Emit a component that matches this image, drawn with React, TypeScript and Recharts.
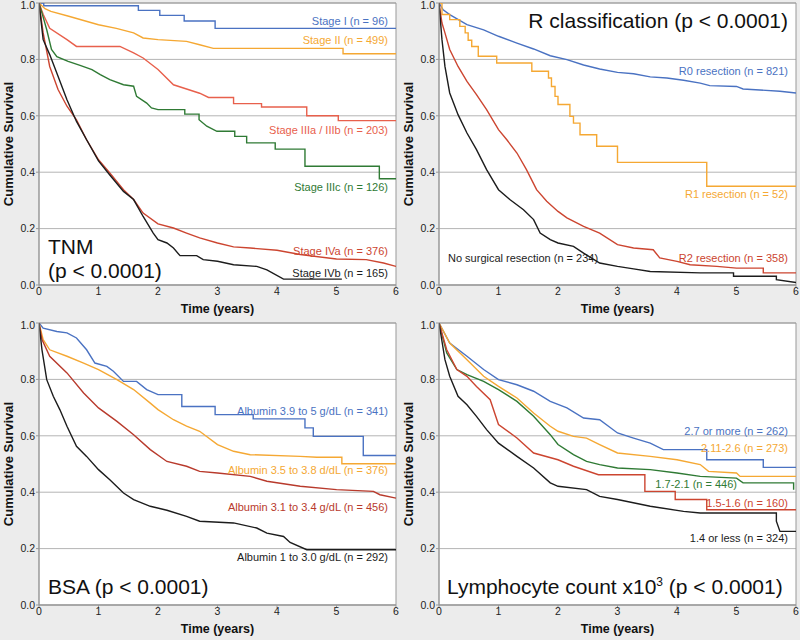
import React from 'react'
import {
  LineChart,
  Line,
  XAxis,
  YAxis,
  CartesianGrid,
  ReferenceArea,
} from 'recharts'

// time (years), cumulative survival
const stageI = [[0, 1], [0.08, 0.99], [1.67, 0.974], [2.03, 0.956], [2.44, 0.936], [2.96, 0.91], [6, 0.91]]
const stageII = [[0, 1], [0.1, 0.98], [0.2, 0.97], [0.5, 0.953], [1, 0.923], [1.3, 0.91], [1.59, 0.894], [1.75, 0.876], [2, 0.87], [2.48, 0.864], [2.7, 0.852], [2.93, 0.839], [5.11, 0.839], [5.11, 0.82], [6, 0.82]]
const stageIIIab = [[0, 1], [0.07, 0.96], [0.18, 0.91], [0.47, 0.87], [0.63, 0.846], [1.36, 0.846], [1.59, 0.823], [1.75, 0.805], [2, 0.764], [2.26, 0.71], [2.48, 0.695], [2.7, 0.68], [2.85, 0.665], [3.27, 0.665], [3.27, 0.643], [3.74, 0.643], [3.74, 0.631], [4.5, 0.631], [4.5, 0.6], [5.03, 0.6], [5.03, 0.583], [6, 0.583]]
const stageIIIc = [[0, 1], [0.07, 0.95], [0.13, 0.905], [0.21, 0.835], [0.3, 0.81], [0.49, 0.793], [0.69, 0.779], [0.89, 0.764], [1.03, 0.746], [1.19, 0.728], [1.42, 0.71], [1.59, 0.705], [1.64, 0.669], [1.81, 0.645], [1.89, 0.628], [2, 0.622], [2.45, 0.622], [2.45, 0.606], [2.69, 0.606], [2.69, 0.586], [2.82, 0.563], [2.99, 0.545], [3.29, 0.545], [3.29, 0.527], [3.49, 0.527], [3.49, 0.504], [3.97, 0.504], [3.97, 0.482], [4.47, 0.482], [4.47, 0.421], [5.72, 0.421], [5.72, 0.377], [6, 0.377]]
const stageIVa = [[0, 1], [0.07, 0.894], [0.18, 0.775], [0.32, 0.693], [0.47, 0.634], [0.63, 0.586], [0.8, 0.515], [1, 0.444], [1.19, 0.397], [1.42, 0.338], [1.59, 0.303], [1.75, 0.255], [2, 0.217], [2.26, 0.202], [2.48, 0.184], [2.7, 0.167], [3, 0.149], [3.27, 0.135], [3.55, 0.131], [4, 0.123], [4.39, 0.108], [5, 0.092], [5.5, 0.09], [5.79, 0.078], [6, 0.066]]
const stageIVb = [[0, 1], [0.07, 0.87], [0.18, 0.817], [0.32, 0.74], [0.47, 0.657], [0.63, 0.58], [0.8, 0.515], [1, 0.44], [1.19, 0.39], [1.42, 0.332], [1.59, 0.303], [1.75, 0.243], [1.92, 0.184], [2, 0.161], [2.15, 0.149], [2.26, 0.131], [2.37, 0.104], [2.65, 0.104], [2.76, 0.09], [3, 0.084], [3.27, 0.072], [3.66, 0.066], [3.83, 0.054], [4.11, 0.021], [5.09, 0.021]]

const r0 = [[0, 1], [0.07, 0.976], [0.18, 0.959], [0.47, 0.923], [0.75, 0.905], [1, 0.882], [1.31, 0.858], [1.59, 0.837], [1.87, 0.813], [2.15, 0.799], [2.43, 0.78], [2.7, 0.766], [3, 0.754], [3.27, 0.749], [3.55, 0.738], [3.83, 0.734], [4.11, 0.726], [4.39, 0.716], [4.55, 0.707], [5, 0.704], [5.11, 0.695], [5.73, 0.687], [6, 0.681]]
const r1 = [[0, 1], [0.05, 0.959], [0.18, 0.941], [0.35, 0.917], [0.44, 0.894], [0.49, 0.868], [0.55, 0.846], [0.66, 0.811], [0.97, 0.787], [1.56, 0.758], [1.84, 0.734], [1.89, 0.704], [1.95, 0.669], [2, 0.64], [2.2, 0.598], [2.26, 0.574], [2.37, 0.533], [2.65, 0.492], [3, 0.435], [4.5, 0.35], [6, 0.35]]
const r2 = [[0, 1], [0.05, 0.929], [0.1, 0.894], [0.18, 0.835], [0.32, 0.775], [0.47, 0.722], [0.63, 0.675], [0.8, 0.622], [1, 0.551], [1.14, 0.515], [1.31, 0.468], [1.47, 0.409], [1.64, 0.338], [1.81, 0.297], [2, 0.261], [2.15, 0.238], [2.43, 0.208], [2.7, 0.184], [3, 0.143], [3.27, 0.131], [3.6, 0.125], [3.71, 0.096], [4, 0.084], [4.22, 0.072], [4.67, 0.066], [5, 0.06], [5.45, 0.06], [5.45, 0.043], [6, 0.043]]
const noSurgery = [[0, 1], [0.05, 0.87], [0.1, 0.775], [0.18, 0.681], [0.32, 0.604], [0.47, 0.539], [0.63, 0.48], [0.8, 0.409], [1, 0.338], [1.19, 0.303], [1.42, 0.267], [1.59, 0.232], [1.7, 0.184], [1.87, 0.161], [2, 0.149], [2.26, 0.137], [2.43, 0.113], [2.7, 0.078], [3, 0.066], [3.27, 0.057], [3.55, 0.048], [4.39, 0.043], [4.95, 0.043], [4.95, 0.031], [5.67, 0.031], [5.67, 0.019], [6, 0.009]]

const alb39 = [[0, 1], [0.07, 0.982], [0.3, 0.97], [0.47, 0.965], [0.63, 0.947], [0.8, 0.905], [0.94, 0.858], [1.14, 0.846], [1.25, 0.829], [1.42, 0.793], [1.64, 0.793], [1.81, 0.764], [2, 0.746], [2.4, 0.746], [2.4, 0.704], [2.96, 0.704], [2.96, 0.675], [3.6, 0.675], [3.6, 0.66], [4.47, 0.66], [4.47, 0.628], [4.61, 0.628], [4.61, 0.598], [5.45, 0.598], [5.45, 0.53], [6, 0.53]]
const alb35 = [[0, 1], [0.07, 0.941], [0.18, 0.905], [0.47, 0.882], [0.75, 0.858], [1, 0.835], [1.31, 0.799], [1.59, 0.764], [1.87, 0.716], [2, 0.693], [2.26, 0.657], [2.48, 0.634], [2.7, 0.616], [3, 0.569], [3.27, 0.545], [3.55, 0.533], [4.39, 0.527], [4.67, 0.524], [5.09, 0.524], [5.09, 0.501], [6, 0.501]]
const alb31 = [[0, 1], [0.05, 0.941], [0.18, 0.882], [0.47, 0.823], [0.75, 0.752], [1, 0.699], [1.31, 0.651], [1.59, 0.604], [1.87, 0.551], [2.15, 0.509], [2.48, 0.492], [2.7, 0.474], [3, 0.468], [3.55, 0.456], [3.83, 0.439], [4.39, 0.421], [5, 0.409], [5.62, 0.403], [5.73, 0.391], [6, 0.379]]
const alb1 = [[0, 1], [0.05, 0.905], [0.13, 0.799], [0.24, 0.74], [0.35, 0.693], [0.47, 0.634], [0.63, 0.563], [0.8, 0.527], [1, 0.48], [1.19, 0.444], [1.42, 0.397], [1.59, 0.374], [1.87, 0.35], [2.15, 0.336], [2.48, 0.314], [2.7, 0.297], [3.27, 0.291], [3.66, 0.273], [3.83, 0.255], [4.11, 0.243], [4.22, 0.222], [4.5, 0.196], [6, 0.196]]

const ly27 = [[0, 1], [0.18, 0.929], [0.47, 0.882], [0.75, 0.835], [1, 0.799], [1.31, 0.781], [1.59, 0.758], [1.87, 0.722], [2.15, 0.699], [2.43, 0.663], [2.7, 0.657], [3, 0.61], [3.27, 0.592], [3.55, 0.574], [3.77, 0.551], [4.5, 0.551], [4.5, 0.515], [5.45, 0.515], [5.45, 0.488], [6, 0.488]]
const ly21 = [[0, 1], [0.18, 0.929], [0.47, 0.87], [0.75, 0.811], [1, 0.775], [1.31, 0.734], [1.59, 0.681], [1.87, 0.634], [2, 0.616], [2.26, 0.598], [2.48, 0.592], [2.7, 0.569], [3, 0.539], [3.55, 0.527], [4, 0.515], [4.39, 0.498], [4.53, 0.474], [5, 0.468], [5.06, 0.456], [6, 0.456]]
const ly17 = [[0, 1], [0.13, 0.894], [0.3, 0.835], [0.47, 0.817], [0.75, 0.793], [1, 0.764], [1.31, 0.722], [1.59, 0.669], [1.87, 0.604], [2, 0.569], [2.26, 0.533], [2.48, 0.509], [2.7, 0.498], [3, 0.486], [3.55, 0.48], [4, 0.468], [4.39, 0.456], [5, 0.45], [5.11, 0.433], [5.96, 0.433], [5.96, 0.409]]
const ly15 = [[0, 1], [0.13, 0.905], [0.3, 0.835], [0.47, 0.811], [0.63, 0.775], [0.86, 0.728], [1, 0.64], [1.31, 0.592], [1.59, 0.539], [2, 0.515], [2.26, 0.492], [2.68, 0.462], [3.46, 0.462], [3.46, 0.403], [3.97, 0.403], [3.97, 0.374], [4.5, 0.374], [4.5, 0.338], [6, 0.338]]
const ly14 = [[0, 1], [0.1, 0.87], [0.18, 0.811], [0.32, 0.74], [0.47, 0.71], [0.63, 0.669], [0.8, 0.622], [1, 0.574], [1.31, 0.527], [1.59, 0.486], [1.87, 0.433], [2, 0.421], [2.48, 0.409], [2.7, 0.385], [3, 0.374], [3.55, 0.35], [4.11, 0.332], [4.39, 0.326], [5.67, 0.326], [5.67, 0.297], [5.73, 0.261], [6, 0.261]]

const xTicks = [0, 1, 2, 3, 4, 5, 6]
const yTicks = [0, 0.2, 0.4, 0.6, 0.8, 1]

const BLUE = '#4a72c2'
const ORANGE = '#f5a833'
const SALMON = '#e8604c'
const GREEN = '#2f7a34'
const RED = '#cc4530'
const DARKRED = '#b83a2c'
const BLACK = '#1c1c1c'

const FONT = '"Liberation Sans", Arial, sans-serif'

type Series = { name: string; pts: number[][]; color: string; step?: boolean }
type Note = { text: React.ReactNode; color: string; y: number; right?: number; left?: number; big?: boolean }

const toRows = (pts: number[][]) => pts.map(([t, s]) => ({ t, s }))

function Panel({ series, notes }: { series: Series[]; notes: Note[] }) {
  return (
    <div style={{ position: 'relative', width: 400, height: 320 }}>
      <LineChart width={400} height={320} margin={{ top: 3, right: 4, left: 0, bottom: 0 }}>
        <CartesianGrid vertical={false} stroke="#b4b4b4" fill="#ffffff" />
        <XAxis
          dataKey="t"
          type="number"
          domain={[0, 6]}
          ticks={xTicks}
          height={35}
          tickSize={3}
          tickMargin={0}
          stroke="#999"
          tick={{ fill: '#222', fontSize: 10.5, fontFamily: FONT }}
          allowDataOverflow
          label={{
            value: 'Time (years)',
            position: 'insideBottom',
            offset: 7,
            style: { fontWeight: 'bold', fontSize: 12.5, fill: '#111', fontFamily: FONT },
          }}
        />
        <YAxis
          type="number"
          domain={[0, 1]}
          ticks={yTicks}
          width={39}
          tickSize={3}
          tickMargin={1}
          stroke="#999"
          tickFormatter={(v: number) => v.toFixed(1)}
          tick={{ fill: '#222', fontSize: 10.5, fontFamily: FONT }}
          allowDataOverflow
          label={{
            value: 'Cumulative Survival',
            angle: -90,
            position: 'insideLeft',
            offset: 8,
            style: { textAnchor: 'middle', fontWeight: 'bold', fontSize: 13, fill: '#111', fontFamily: FONT },
          }}
        />
        <ReferenceArea x1={0} x2={6} y1={0} y2={1} fill="none" stroke="#999" strokeWidth={1} />
        {series.map((s) => (
          <Line
            key={s.name}
            data={toRows(s.pts)}
            dataKey="s"
            type={s.step ? 'stepAfter' : 'linear'}
            stroke={s.color}
            strokeWidth={1.4}
            dot={false}
            isAnimationActive={false}
          />
        ))}
      </LineChart>
      {notes.map((n, i) => (
        <div
          key={i}
          style={{
            position: 'absolute',
            top: n.y - (n.big ? 12 : 7),
            left: n.left,
            right: n.right,
            color: n.color,
            fontSize: n.big ? 21 : 11,
            lineHeight: n.big ? '24px' : '14px',
            fontFamily: FONT,
            whiteSpace: 'nowrap',
          }}
        >
          {n.text}
        </div>
      ))}
    </div>
  )
}

export default function App() {
  return (
    <div style={{ position: 'absolute', left: 0, top: 0, width: 800, height: 640, background: '#ececec' }}>
      <div style={{ position: 'absolute', left: 0, top: 0 }}>
        <Panel
          series={[
            { name: 'I', pts: stageI, color: BLUE, step: true },
            { name: 'II', pts: stageII, color: ORANGE },
            { name: 'IIIab', pts: stageIIIab, color: SALMON },
            { name: 'IIIc', pts: stageIIIc, color: GREEN },
            { name: 'IVa', pts: stageIVa, color: RED },
            { name: 'IVb', pts: stageIVb, color: BLACK },
          ]}
          notes={[
            { text: 'Stage I (n = 96)', color: BLUE, y: 21, right: 12 },
            { text: 'Stage II (n = 499)', color: ORANGE, y: 40, right: 12 },
            { text: 'Stage IIIa / IIIb (n = 203)', color: SALMON, y: 130, right: 12 },
            { text: 'Stage IIIc (n = 126)', color: GREEN, y: 187, right: 12 },
            { text: 'Stage IVa (n = 376)', color: RED, y: 251, right: 12 },
            { text: 'Stage IVb (n = 165)', color: BLACK, y: 273, right: 12 },
            { text: 'TNM', color: '#111', y: 247, left: 48, big: true },
            { text: '(p < 0.0001)', color: '#111', y: 271, left: 48, big: true },
          ]}
        />
      </div>
      <div style={{ position: 'absolute', left: 400, top: 0 }}>
        <Panel
          series={[
            { name: 'R0', pts: r0, color: BLUE },
            { name: 'R1', pts: r1, color: ORANGE, step: true },
            { name: 'R2', pts: r2, color: RED },
            { name: 'none', pts: noSurgery, color: BLACK },
          ]}
          notes={[
            { text: 'R classification (p < 0.0001)', color: '#111', y: 21, right: 12, big: true },
            { text: 'R0 resection (n = 821)', color: BLUE, y: 71, right: 12 },
            { text: 'R1 resection (n = 52)', color: ORANGE, y: 194, right: 12 },
            { text: 'R2 resection (n = 358)', color: RED, y: 258, right: 12 },
            { text: 'No surgical resection (n = 234)', color: BLACK, y: 258, left: 48 },
          ]}
        />
      </div>
      <div style={{ position: 'absolute', left: 0, top: 320 }}>
        <Panel
          series={[
            { name: 'a39', pts: alb39, color: BLUE },
            { name: 'a35', pts: alb35, color: ORANGE },
            { name: 'a31', pts: alb31, color: DARKRED },
            { name: 'a1', pts: alb1, color: BLACK },
          ]}
          notes={[
            { text: 'Albumin 3.9 to 5 g/dL (n = 341)', color: BLUE, y: 91, right: 12 },
            { text: 'Albumin 3.5 to 3.8 d/dL (n = 376)', color: ORANGE, y: 150, right: 12 },
            { text: 'Albumin 3.1 to 3.4 g/dL (n = 456)', color: DARKRED, y: 187, right: 12 },
            { text: 'Albumin 1 to 3.0 g/dL (n = 292)', color: BLACK, y: 237, right: 12 },
            { text: 'BSA (p < 0.0001)', color: '#111', y: 267, left: 48, big: true },
          ]}
        />
      </div>
      <div style={{ position: 'absolute', left: 400, top: 320 }}>
        <Panel
          series={[
            { name: 'l27', pts: ly27, color: BLUE },
            { name: 'l21', pts: ly21, color: ORANGE },
            { name: 'l17', pts: ly17, color: GREEN },
            { name: 'l15', pts: ly15, color: RED },
            { name: 'l14', pts: ly14, color: BLACK },
          ]}
          notes={[
            { text: '2.7 or more (n = 262)', color: BLUE, y: 111, right: 12 },
            { text: '2.11-2.6 (n = 273)', color: ORANGE, y: 128, right: 12 },
            { text: '1.7-2.1 (n = 446)', color: GREEN, y: 164, right: 63 },
            { text: '1.5-1.6 (n = 160)', color: RED, y: 183, right: 12 },
            { text: '1.4 or less (n = 324)', color: BLACK, y: 218, right: 12 },
            {
              text: (
                <span>
                  Lymphocyte count x10<sup style={{ fontSize: 12, verticalAlign: 'top', lineHeight: '14px' }}>3</sup> (p &lt; 0.0001)
                </span>
              ),
              color: '#111',
              y: 267,
              left: 47,
              big: true,
            },
          ]}
        />
      </div>
    </div>
  )
}
